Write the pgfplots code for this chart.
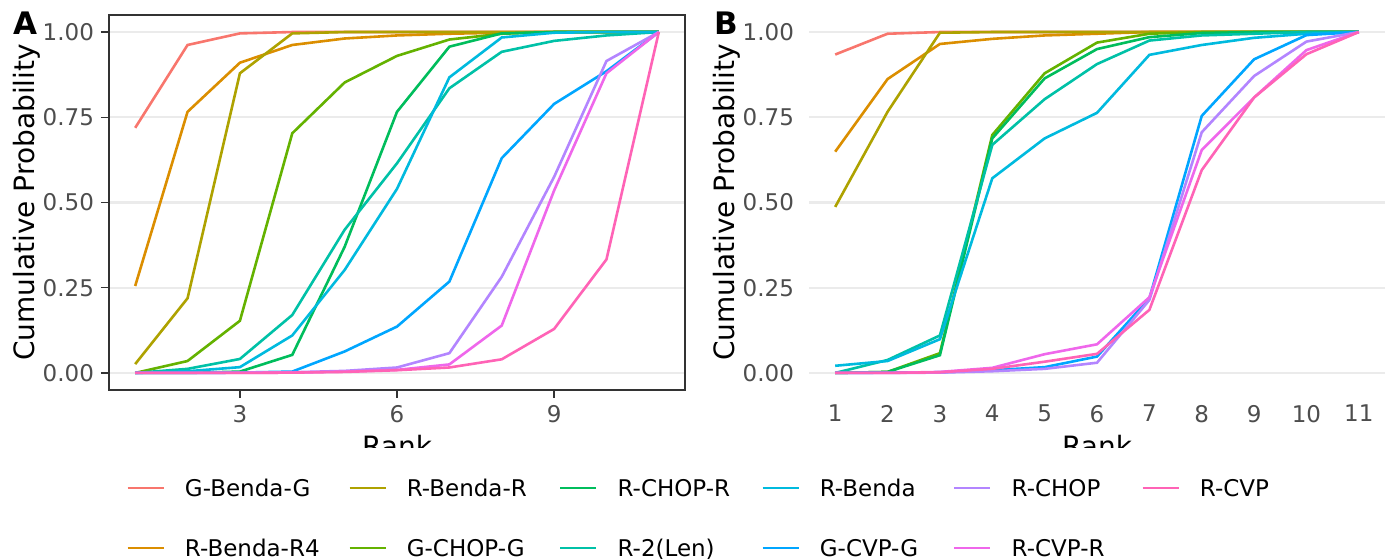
\documentclass[border=0pt]{standalone}
\usepackage{pgfplots}
\pgfplotsset{compat=1.18}
\usepackage{pgfplotstable}
\usepackage{fontspec}
\setmainfont{DejaVu Sans}

\definecolor{c1}{HTML}{F8766D}
\definecolor{c2}{HTML}{DB8E00}
\definecolor{c3}{HTML}{AEA200}
\definecolor{c4}{HTML}{64B200}
\definecolor{c5}{HTML}{00BD5C}
\definecolor{c6}{HTML}{00C1A7}
\definecolor{c7}{HTML}{00BADE}
\definecolor{c8}{HTML}{00A6FF}
\definecolor{c9}{HTML}{B385FF}
\definecolor{c10}{HTML}{EF67EB}
\definecolor{c11}{HTML}{FF63B6}
\definecolor{gridc}{HTML}{EBEBEB}
\definecolor{tickc}{HTML}{4D4D4D}
\definecolor{framec}{HTML}{333333}

\pgfplotstableread{
rank GBG RBR4 RBR GCG RCR R2L RB GCVG RC RCVR RCV
1 0.719 0.255 0.026 0.000 0.000 0.000 0.000 0.000 0.000 0.000 0.000
2 0.962 0.766 0.219 0.035 0.000 0.012 0.005 0.000 0.000 0.000 0.000
3 0.996 0.910 0.879 0.153 0.004 0.041 0.017 0.001 0.001 0.000 0.000
4 1.000 0.962 0.996 0.703 0.053 0.170 0.110 0.004 0.002 0.001 0.001
5 1.000 0.981 1.000 0.852 0.370 0.420 0.302 0.063 0.006 0.004 0.003
6 1.000 0.990 1.000 0.930 0.766 0.615 0.540 0.136 0.016 0.009 0.008
7 1.000 0.995 1.000 0.978 0.957 0.835 0.867 0.268 0.058 0.025 0.016
8 1.000 0.998 1.000 0.995 0.996 0.942 0.984 0.630 0.282 0.139 0.040
9 1.000 1.000 1.000 1.000 1.000 0.974 0.998 0.789 0.575 0.535 0.129
10 1.000 1.000 1.000 1.000 1.000 0.990 1.000 0.885 0.915 0.879 0.333
11 1.000 1.000 1.000 1.000 1.000 1.000 1.000 1.000 1.000 1.000 1.000
}\dataA

\pgfplotstableread{
rank GBG RBR4 RBR GCG RCR R2L RB GCVG RC RCVR RCV
1 0.934 0.649 0.487 0.000 0.000 0.000 0.021 0.000 0.000 0.000 0.000
2 0.995 0.862 0.766 0.003 0.003 0.038 0.035 0.001 0.000 0.000 0.000
3 1.000 0.965 0.998 0.058 0.052 0.110 0.099 0.002 0.001 0.003 0.002
4 1.000 0.980 1.000 0.698 0.688 0.669 0.571 0.008 0.005 0.015 0.012
5 1.000 0.990 1.000 0.879 0.864 0.803 0.688 0.017 0.012 0.055 0.033
6 1.000 0.995 1.000 0.969 0.950 0.906 0.763 0.048 0.030 0.084 0.056
7 1.000 1.000 1.000 0.995 0.985 0.975 0.933 0.219 0.214 0.222 0.185
8 1.000 1.000 1.000 1.000 0.997 0.990 0.962 0.754 0.706 0.654 0.595
9 1.000 1.000 1.000 1.000 1.000 0.995 0.983 0.920 0.871 0.808 0.808
10 1.000 1.000 1.000 1.000 1.000 1.000 0.995 0.991 0.972 0.947 0.935
11 1.000 1.000 1.000 1.000 1.000 1.000 1.000 1.000 1.000 1.000 1.000
}\dataB

\pgfplotsset{
  panel/.style={
    scale only axis, width=288pt, height=187.5pt,
    anchor=south west,
    xmin=0.5, xmax=11.5, ymin=-0.05, ymax=1.05,
    ytick={0,0.25,0.5,0.75,1}, yticklabels={0.00,0.25,0.50,0.75,1.00},
    ymajorgrids, major grid style={color=gridc, line width=1.1pt},
    tick align=outside, major tick length=4pt,
    xtick pos=bottom, ytick pos=left,
    tick label style={font=\fontsize{11.5}{13}\selectfont, text=tickc},
    label style={font=\fontsize{14}{16}\selectfont},
    xlabel={Rank}, ylabel={Cumulative Probability},
    xlabel style={at={(axis description cs:0.5,-0.12)}, anchor=north, inner sep=0pt},
    ylabel style={at={(axis description cs:-0.1285,0.5)}, anchor=base, inner sep=0pt},
    every axis plot/.append style={line width=1.3pt},
  },
}

\newcommand{\plotall}[1]{%
  \addplot[c1] table[x=rank,y=GBG]{#1};
  \addplot[c2] table[x=rank,y=RBR4]{#1};
  \addplot[c3] table[x=rank,y=RBR]{#1};
  \addplot[c4] table[x=rank,y=GCG]{#1};
  \addplot[c5] table[x=rank,y=RCR]{#1};
  \addplot[c6] table[x=rank,y=R2L]{#1};
  \addplot[c7] table[x=rank,y=RB]{#1};
  \addplot[c8] table[x=rank,y=GCVG]{#1};
  \addplot[c9] table[x=rank,y=RC]{#1};
  \addplot[c10] table[x=rank,y=RCVR]{#1};
  \addplot[c11] table[x=rank,y=RCV]{#1};
}

\begin{document}
\begin{tikzpicture}
\path[use as bounding box] (0pt,0pt) rectangle (700pt,280pt);

\begin{axis}[panel, at={(54.5pt,85pt)},
  xtick={3,6,9}, xticklabels={3,6,9},
  axis line style={color=framec, line width=0.75pt},
  tick style={color=framec, line width=0.75pt},
]
\plotall{\dataA}
\end{axis}

\begin{axis}[panel, at={(404.5pt,85pt)},
  xtick={1,2,3,4,5,6,7,8,9,10,11}, xticklabels={1,2,3,4,5,6,7,8,9,10,11},
  axis line style={draw=none},
  tick style={draw=none},
]
\plotall{\dataB}
\end{axis}

\fill[white] (0pt,45pt) rectangle (700pt,56pt);

\node[anchor=base west, inner sep=0pt, font=\bfseries\fontsize{15.5}{18}\selectfont] at (6.5pt,262.5pt) {A};
\node[anchor=base west, inner sep=0pt, font=\bfseries\fontsize{15.5}{18}\selectfont] at (357pt,262.5pt) {B};

\begin{axis}[at={(0pt,0pt)}, anchor=south west, scale only axis, width=700pt, height=280pt,
  hide axis, xmin=0, xmax=1, ymin=0, ymax=1,
  legend columns=6,
  legend cell align=left,
  legend image code/.code={\draw[#1] (0pt,0pt) -- (18pt,0pt);},
  legend style={at={(0.09,0.075)}, anchor=west, draw=none, fill=none, inner sep=0pt,
    font=\fontsize{11.5}{13}\selectfont,
    /tikz/every odd column/.append style={column sep=10pt},
    /tikz/column 2/.append style={column sep=14.3pt},
    /tikz/column 4/.append style={column sep=16.1pt},
    /tikz/column 6/.append style={column sep=15.6pt},
    /tikz/column 8/.append style={column sep=17.5pt},
    /tikz/column 10/.append style={column sep=18.4pt},
    row sep=16.6pt,
    nodes={inner sep=0pt, text height=10.9pt, text depth=2.5pt, anchor=west}},
]
\addlegendimage{c1, line width=1.3pt}\addlegendentry{G-Benda-G}
\addlegendimage{c3, line width=1.3pt}\addlegendentry{R-Benda-R}
\addlegendimage{c5, line width=1.3pt}\addlegendentry{R-CHOP-R}
\addlegendimage{c7, line width=1.3pt}\addlegendentry{R-Benda}
\addlegendimage{c9, line width=1.3pt}\addlegendentry{R-CHOP}
\addlegendimage{c11, line width=1.3pt}\addlegendentry{R-CVP}
\addlegendimage{c2, line width=1.3pt}\addlegendentry{R-Benda-R4}
\addlegendimage{c4, line width=1.3pt}\addlegendentry{G-CHOP-G}
\addlegendimage{c6, line width=1.3pt}\addlegendentry{R-2(Len)}
\addlegendimage{c8, line width=1.3pt}\addlegendentry{G-CVP-G}
\addlegendimage{c10, line width=1.3pt}\addlegendentry{R-CVP-R}
\end{axis}
\end{tikzpicture}
\end{document}
